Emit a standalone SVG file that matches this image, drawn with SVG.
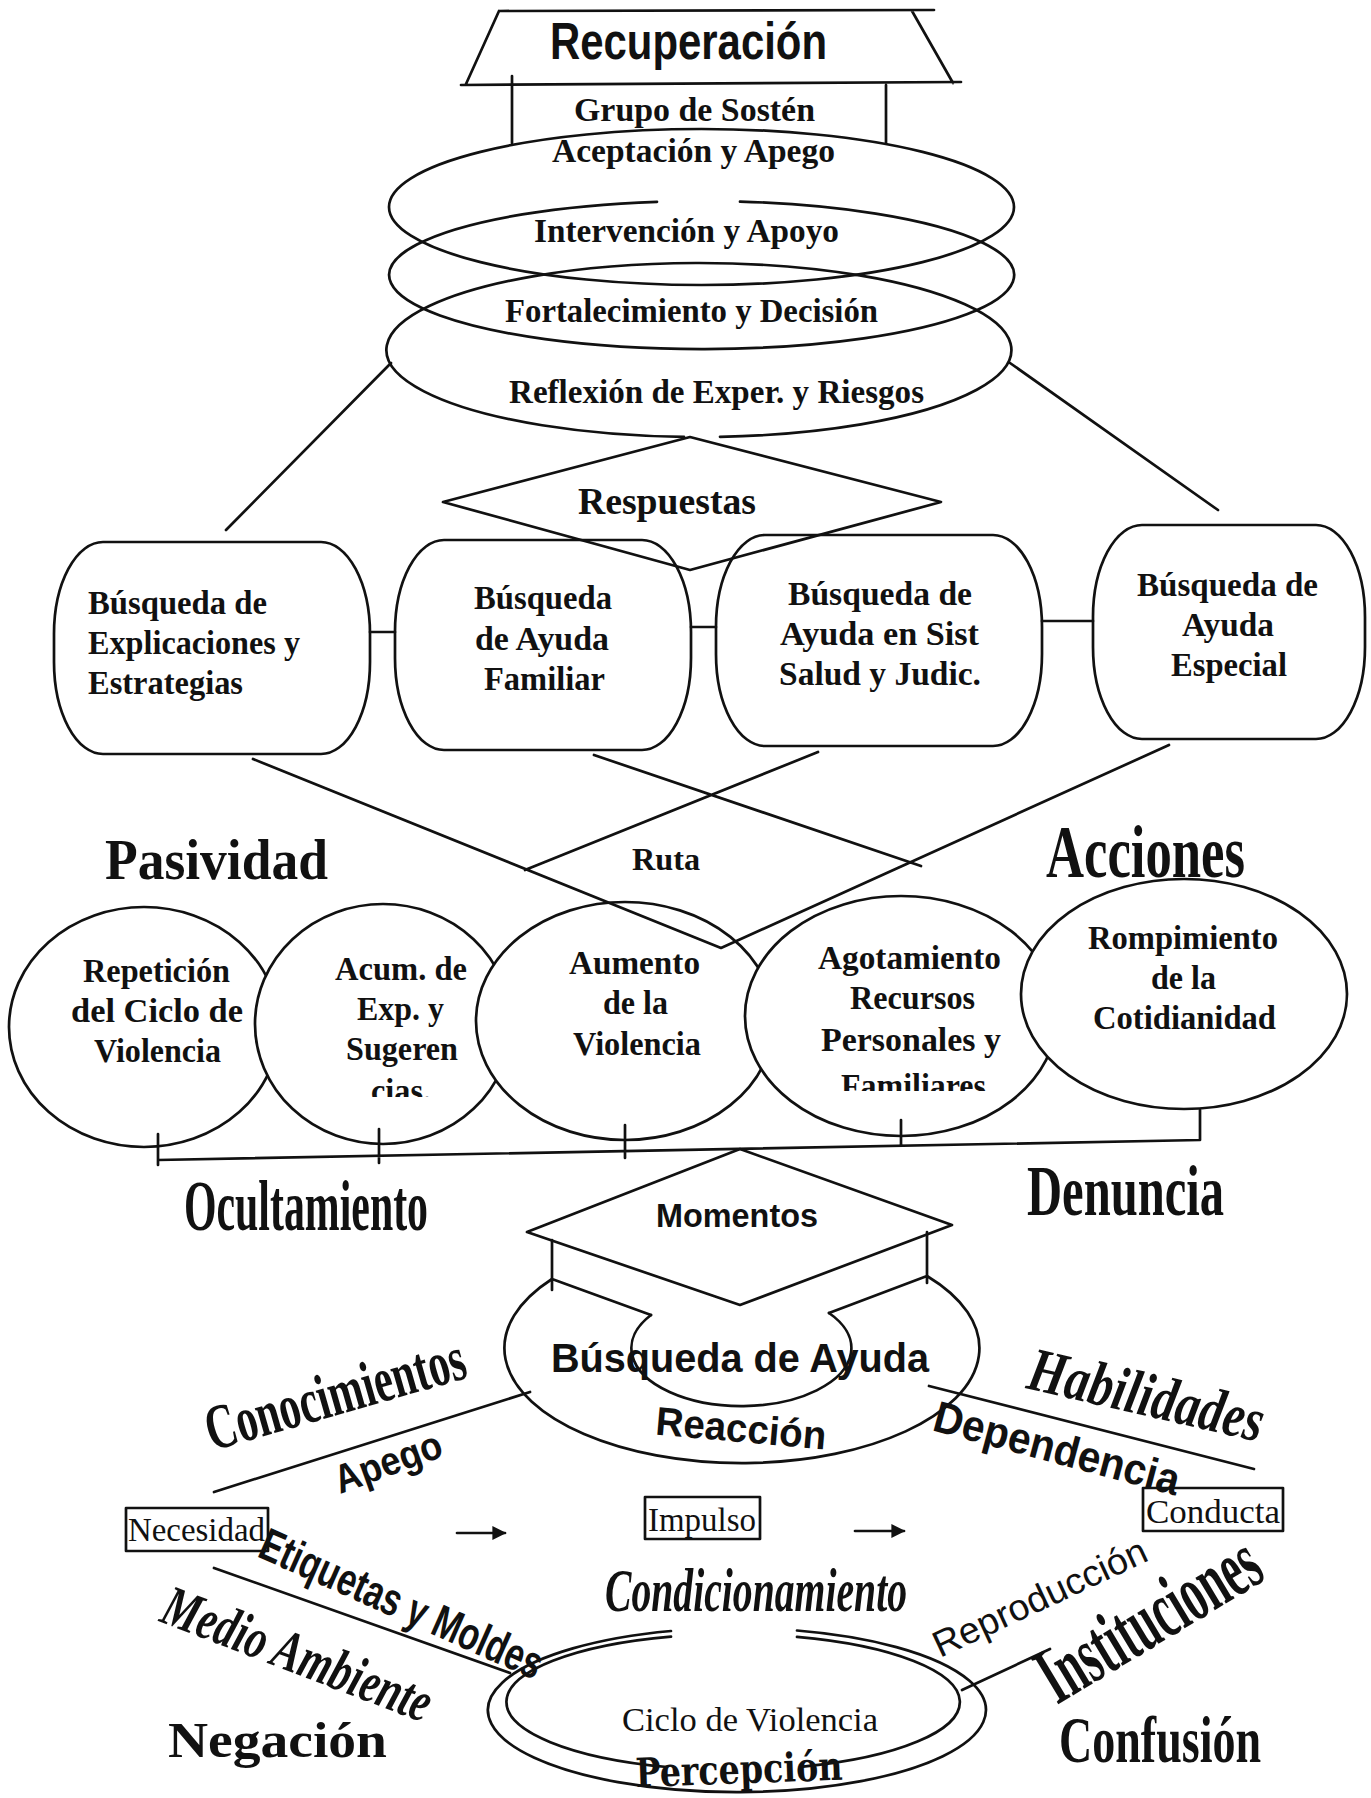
<svg xmlns="http://www.w3.org/2000/svg" width="1371" height="1798" viewBox="0 0 1371 1798">
<defs>
<style>
.s{fill:none;stroke:#111;stroke-width:2.7;stroke-linejoin:round;stroke-linecap:round}
.w{fill:#fff;stroke:#111;stroke-width:2.7}
.tb{font-family:"Liberation Serif","Times New Roman",serif;font-weight:bold;font-size:33px;fill:#111}
.tr{font-family:"Liberation Serif","Times New Roman",serif;font-size:33px;fill:#111}
.ab{font-family:"Liberation Sans",Arial,sans-serif;font-weight:bold;fill:#111}
.ar{font-family:"Liberation Sans",Arial,sans-serif;fill:#111}
.bi{font-family:"Liberation Serif","Times New Roman",serif;font-weight:bold;font-style:italic;fill:#111}
.dec{font-family:"DejaVu Serif",serif;font-weight:bold;fill:#111}
</style>
<marker id="ah" viewBox="0 0 10 10" refX="9" refY="5" markerWidth="16" markerHeight="14" markerUnits="userSpaceOnUse" orient="auto"><path d="M0,0 L10,5 L0,10 Z" fill="#111"/></marker>
<clipPath id="clipCias"><rect x="300" y="900" width="250" height="197"/></clipPath>
<clipPath id="clipFam"><rect x="780" y="900" width="260" height="191"/></clipPath>
</defs>
<rect width="1371" height="1798" fill="#fff"/>

<!-- Recuperación header -->
<g id="recuperacion">
<path class="s" d="M499,11 L934,10 M499,11 L466,84 M912,11 L953,83 M461,85 L961,82 M512,76 L512,143 M886,85 L886,143"/>
<text class="ab" x="550" y="59" style="font-size:52px" textLength="277" lengthAdjust="spacingAndGlyphs">Recuperación</text>
<text class="tb" x="574" y="121" textLength="241" lengthAdjust="spacingAndGlyphs">Grupo de Sostén</text>
</g>

<!-- stacked ellipses -->
<g id="aceptacion">
<ellipse class="s" cx="701.5" cy="207" rx="312.5" ry="78"/>
<text class="tb" x="552" y="162" textLength="283" lengthAdjust="spacingAndGlyphs">Aceptación y Apego</text>
</g>
<g id="intervencion">
<path class="s" d="M740,201.6 A312.5,74 0 1 1 657,201.8"/>
<text class="tb" x="534" y="242" textLength="305" lengthAdjust="spacingAndGlyphs">Intervención y Apoyo</text>
</g>
<g id="fortalecimiento">
<path class="s" d="M684,436.9 A312.5,87 0 1 1 720,436.8"/>
<text class="tb" x="505" y="322" textLength="373" lengthAdjust="spacingAndGlyphs">Fortalecimiento y Decisión</text>
<text class="tb" x="509" y="403" textLength="415" lengthAdjust="spacingAndGlyphs">Reflexión de Exper. y Riesgos</text>
</g>

<!-- Respuestas diamond -->
<g id="respuestas">
<path class="s" d="M690,437 L941,502 L690,570 L443,502 Z"/>
<text class="tb" x="578" y="514" style="font-size:37px" textLength="178" lengthAdjust="spacingAndGlyphs">Respuestas</text>
</g>

<!-- boxes -->
<g id="box-explicaciones">
<rect class="s" x="54" y="542" width="316" height="212" rx="49" ry="92"/>
<text class="tb" x="88" y="614" textLength="179" lengthAdjust="spacingAndGlyphs">Búsqueda de</text>
<text class="tb" x="88" y="654" textLength="212" lengthAdjust="spacingAndGlyphs">Explicaciones y</text>
<text class="tb" x="88" y="694" textLength="155" lengthAdjust="spacingAndGlyphs">Estrategias</text>
</g>
<g id="box-familiar">
<rect class="s" x="395" y="540" width="296" height="210" rx="49" ry="92"/>
<text class="tb" x="474" y="609" textLength="138" lengthAdjust="spacingAndGlyphs">Búsqueda</text>
<text class="tb" x="475" y="650" textLength="134" lengthAdjust="spacingAndGlyphs">de Ayuda</text>
<text class="tb" x="484" y="690" textLength="121" lengthAdjust="spacingAndGlyphs">Familiar</text>
</g>
<g id="box-salud">
<rect class="s" x="716" y="535" width="326" height="211" rx="49" ry="92"/>
<text class="tb" x="788" y="605" textLength="184" lengthAdjust="spacingAndGlyphs">Búsqueda de</text>
<text class="tb" x="780" y="645" textLength="199" lengthAdjust="spacingAndGlyphs">Ayuda en Sist</text>
<text class="tb" x="779" y="685" textLength="202" lengthAdjust="spacingAndGlyphs">Salud y Judic.</text>
</g>
<g id="box-especial">
<rect class="s" x="1093" y="525" width="272" height="214" rx="49" ry="92"/>
<text class="tb" x="1137" y="596" textLength="181" lengthAdjust="spacingAndGlyphs">Búsqueda de</text>
<text class="tb" x="1182" y="636" textLength="92" lengthAdjust="spacingAndGlyphs">Ayuda</text>
<text class="tb" x="1171" y="676" textLength="116" lengthAdjust="spacingAndGlyphs">Especial</text>
</g>

<g id="labels-row">
<text class="tb" x="105" y="879" style="font-size:57px" textLength="223" lengthAdjust="spacingAndGlyphs">Pasividad</text>
<text class="tb" x="1046" y="877" style="font-size:74px" textLength="199" lengthAdjust="spacingAndGlyphs">Acciones</text>
<text class="tb" x="632" y="870" style="font-size:32px" textLength="68" lengthAdjust="spacingAndGlyphs">Ruta</text>
</g>

<!-- circles -->
<g id="c-repeticion">
<ellipse class="w" cx="144" cy="1027" rx="135" ry="120"/>
<text class="tb" x="83" y="982" textLength="147" lengthAdjust="spacingAndGlyphs">Repetición</text>
<text class="tb" x="71" y="1022" textLength="172" lengthAdjust="spacingAndGlyphs">del Ciclo  de</text>
<text class="tb" x="94" y="1062" textLength="127" lengthAdjust="spacingAndGlyphs">Violencia</text>
</g>
<g id="c-acum">
<ellipse class="w" cx="383" cy="1024" rx="128" ry="120"/>
<text class="tb" x="335" y="980" textLength="132" lengthAdjust="spacingAndGlyphs">Acum. de</text>
<text class="tb" x="357" y="1020" textLength="87" lengthAdjust="spacingAndGlyphs">Exp. y</text>
<text class="tb" x="346" y="1060" textLength="112" lengthAdjust="spacingAndGlyphs">Sugeren</text>
<text class="tb" x="371" y="1102" textLength="60" lengthAdjust="spacingAndGlyphs" clip-path="url(#clipCias)">cias.</text>
</g>
<g id="c-aumento">
<ellipse class="w" cx="625" cy="1021" rx="149" ry="119"/>
<text class="tb" x="569" y="974" textLength="131" lengthAdjust="spacingAndGlyphs">Aumento</text>
<text class="tb" x="603" y="1014" textLength="65" lengthAdjust="spacingAndGlyphs">de la</text>
<text class="tb" x="573" y="1055" textLength="128" lengthAdjust="spacingAndGlyphs">Violencia</text>
</g>
<g id="c-agotamiento">
<ellipse class="w" cx="901" cy="1016" rx="156" ry="120"/>
<text class="tb" x="818" y="969" textLength="183" lengthAdjust="spacingAndGlyphs">Agotamiento</text>
<text class="tb" x="850" y="1009" textLength="125" lengthAdjust="spacingAndGlyphs">Recursos</text>
<text class="tb" x="821" y="1051" textLength="180" lengthAdjust="spacingAndGlyphs">Personales  y</text>
<text class="tb" x="841" y="1097" textLength="145" lengthAdjust="spacingAndGlyphs" clip-path="url(#clipFam)">Familiares</text>
</g>
<g id="c-rompimiento">
<ellipse class="w" cx="1184" cy="994" rx="163" ry="115"/>
<text class="tb" x="1088" y="949" textLength="190" lengthAdjust="spacingAndGlyphs">Rompimiento</text>
<text class="tb" x="1151" y="989" textLength="65" lengthAdjust="spacingAndGlyphs">de la</text>
<text class="tb" x="1093" y="1029" textLength="183" lengthAdjust="spacingAndGlyphs">Cotidianidad</text>
</g>

<g id="labels-momentos">
<text class="tb" x="184" y="1230" style="font-size:72px" textLength="244" lengthAdjust="spacingAndGlyphs">Ocultamiento</text>
<text class="tb" x="1027" y="1215" style="font-size:72px" textLength="197" lengthAdjust="spacingAndGlyphs">Denuncia</text>
</g>

<!-- Momentos / Búsqueda de Ayuda -->
<g id="momentos">
<path class="s" d="M740,1149 L952,1225 L740,1305 L527,1232 Z"/>
<text class="ab" x="656" y="1227" style="font-size:33px" textLength="162" lengthAdjust="spacingAndGlyphs">Momentos</text>
</g>
<g id="busqueda-ayuda">
<path class="s" d="M552,1240 L552,1290 M927,1232 L927,1283 M552,1279 L651,1315 M927,1276 L829,1313"/>
<path class="s" d="M552,1279 A237.5,115 0 1 0 927,1276"/>
<path class="s" d="M651,1315 A110,58 0 1 0 829,1313"/>
<text class="ab" x="551" y="1372" style="font-size:41px" textLength="378" lengthAdjust="spacingAndGlyphs">Búsqueda de Ayuda</text>
<text class="ab" style="font-size:40px" text-anchor="middle" textLength="171" lengthAdjust="spacingAndGlyphs" transform="translate(740,1442) rotate(5)">Reacción</text>
</g>

<!-- left cluster -->
<g id="left-labels">
<text class="tb" style="font-size:64px" textLength="268" lengthAdjust="spacingAndGlyphs" transform="translate(212,1451) rotate(-16)">Conocimientos</text>
<text class="ab" style="font-size:40px" textLength="112" lengthAdjust="spacingAndGlyphs" transform="translate(340,1494) rotate(-20)">Apego</text>
<text class="ab" style="font-size:46px" textLength="305" lengthAdjust="spacingAndGlyphs" transform="translate(256,1556) rotate(24)">Etiquetas y Moldes</text>
<text class="bi" style="font-size:58px" textLength="284" lengthAdjust="spacingAndGlyphs" transform="translate(158,1621) rotate(21)">Medio Ambiente</text>
<text class="tb" x="168" y="1757" style="font-size:50px" textLength="219" lengthAdjust="spacingAndGlyphs">Negación</text>
</g>
<g id="necesidad">
<rect class="s" x="126" y="1508" width="142" height="43" stroke-width="2"/>
<text class="tr" x="128" y="1541" textLength="137" lengthAdjust="spacingAndGlyphs">Necesidad</text>
</g>
<g id="impulso">
<rect class="s" x="645" y="1497" width="115" height="42" stroke-width="2"/>
<text class="tr" x="648" y="1531" textLength="108" lengthAdjust="spacingAndGlyphs">Impulso</text>
</g>
<g id="condicionamiento">
<text class="bi" x="605" y="1611" style="font-size:62px" textLength="302" lengthAdjust="spacingAndGlyphs">Condicionamiento</text>
</g>
<g id="conducta">
<rect class="s" x="1143" y="1488" width="140" height="43" stroke-width="2"/>
<text class="tr" x="1146" y="1523" style="font-size:34px" textLength="134" lengthAdjust="spacingAndGlyphs">Conducta</text>
</g>

<!-- right cluster -->
<g id="right-labels">
<text class="bi" style="font-size:62px" textLength="240" lengthAdjust="spacingAndGlyphs" transform="translate(1025,1388) rotate(13)">Habilidades</text>
<text class="ab" style="font-size:44px" textLength="253" lengthAdjust="spacingAndGlyphs" transform="translate(931,1430) rotate(15)">Dependencia</text>
<text class="ar" style="font-size:37px" textLength="232" lengthAdjust="spacingAndGlyphs" transform="translate(940,1658) rotate(-25)">Reproducción</text>
<text class="tb" style="font-size:82px" transform="translate(1057,1705) rotate(-31) scale(0.55,1)">Instituciones</text>
<text class="tb" x="1059" y="1762" style="font-size:66px" textLength="202" lengthAdjust="spacingAndGlyphs">Confusión</text>
</g>

<!-- Ciclo de Violencia -->
<g id="ciclo-violencia">
<path class="s" d="M797,1630.5 A249,82 0 1 1 671,1631"/>
<path class="s" d="M797,1636.8 A227,68 0 0 1 803,1766.7 M667,1767 A227,68 0 0 1 671,1636.6"/>
<text class="tr" x="622" y="1731" style="font-size:34px" textLength="256" lengthAdjust="spacingAndGlyphs">Ciclo de Violencia</text>
<text class="dec" style="font-size:40px" textLength="207" lengthAdjust="spacingAndGlyphs" transform="translate(636,1787) rotate(-2)">Percepción</text>
</g>

<!-- connectors -->
<g id="connectors">
<path class="s" d="M391,363 L226,530 M1010,363 L1218,510"/>
<path class="s" d="M370,632 L395,632 M691,627 L716,627 M1042,621 L1093,621"/>
<path class="s" d="M253,759 L721,948 L1169,745 M594,755 L921,866 M818,752 L525,870"/>
<path class="s" d="M158,1160 L1200,1140 L1200,1110 M158,1134 L158,1165 M379,1129 L379,1163 M625,1125 L625,1158 M901,1120 L901,1145"/>
<path class="s" d="M214,1492 L530,1392 M214,1568 L510,1673 M929,1386 L1254,1469 M962,1690 L1050,1649"/>
<path class="s" d="M457,1533 L505,1533" marker-end="url(#ah)"/>
<path class="s" d="M855,1531 L904,1531" marker-end="url(#ah)"/>
</g>
</svg>
